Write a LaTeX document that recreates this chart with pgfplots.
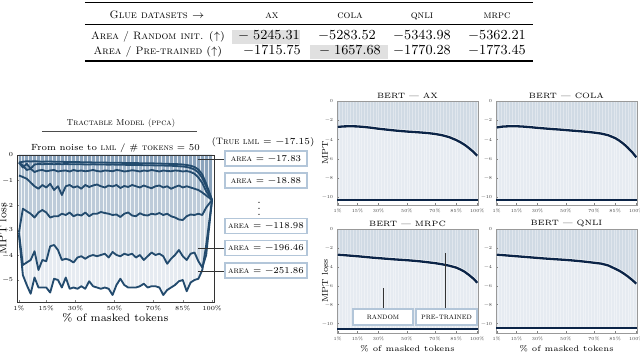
\documentclass[border=0pt]{standalone}
\usepackage{pgfplots}
\pgfplotsset{compat=1.18}
\usepackage{pgfplotstable}
\definecolor{fillc}{HTML}{4D7399}
\definecolor{linec}{HTML}{234B6E}
\definecolor{navy}{HTML}{0B2447}
\definecolor{boxc}{HTML}{B3C6D9}
\definecolor{cellg}{HTML}{E0E0E0}

% PPCA: MPT loss of 7 models, 50 masking levels
\pgfplotstableread{
x    c1     c2     c3     c4     c5     c6     c7
1   -0.30 -0.30 -0.30 -0.82 -3.10 -3.10 -3.20
3   -0.27 -0.50 -0.42 -0.88 -2.15 -4.40 -4.80
5   -0.25 -0.35 -0.60 -0.95 -2.25 -4.30 -5.20
7   -0.26 -0.55 -0.55 -1.10 -2.35 -4.20 -5.55
9   -0.25 -0.38 -0.68 -1.25 -2.50 -3.85 -4.90
11  -0.26 -0.36 -0.62 -1.35 -2.30 -4.60 -5.30
13  -0.27 -0.37 -0.60 -1.20 -2.20 -4.20 -5.30
15  -0.26 -0.36 -0.65 -1.30 -2.30 -4.25 -5.30
17  -0.26 -0.36 -0.62 -1.15 -2.50 -3.65 -5.50
19  -0.27 -0.37 -0.60 -1.40 -2.45 -3.60 -4.95
21  -0.27 -0.36 -0.66 -1.25 -2.45 -3.80 -5.00
23  -0.27 -0.37 -0.63 -1.60 -2.35 -4.20 -5.30
25  -0.28 -0.36 -0.62 -1.25 -2.40 -4.15 -4.90
27  -0.28 -0.37 -0.66 -1.20 -2.30 -4.20 -5.35
29  -0.28 -0.37 -0.60 -1.30 -2.45 -4.30 -5.30
31  -0.28 -0.37 -0.64 -1.25 -2.38 -4.10 -5.35
33  -0.29 -0.37 -0.62 -1.35 -2.42 -4.05 -5.25
35  -0.29 -0.38 -0.65 -1.20 -2.30 -4.15 -5.35
37  -0.29 -0.38 -0.63 -1.28 -2.45 -4.05 -5.05
39  -0.30 -0.37 -0.60 -1.22 -2.35 -4.00 -5.25
41  -0.30 -0.38 -0.64 -1.18 -2.35 -4.05 -5.30
43  -0.30 -0.38 -0.66 -1.25 -2.28 -4.00 -5.35
45  -0.30 -0.38 -0.62 -1.30 -2.32 -3.95 -5.30
47  -0.31 -0.39 -0.63 -1.22 -2.35 -4.10 -5.35
49  -0.31 -0.38 -0.65 -1.26 -2.40 -3.88 -5.60
51  -0.31 -0.39 -0.60 -1.20 -2.38 -4.00 -5.20
53  -0.31 -0.39 -0.62 -1.32 -2.48 -4.05 -4.95
55  -0.32 -0.39 -0.66 -1.24 -2.35 -3.95 -5.20
57  -0.32 -0.40 -0.64 -1.28 -2.30 -4.00 -5.30
59  -0.32 -0.40 -0.61 -1.20 -2.42 -3.95 -5.30
61  -0.32 -0.40 -0.63 -1.25 -2.45 -4.10 -5.30
63  -0.33 -0.40 -0.66 -1.30 -2.33 -4.00 -5.25
65  -0.33 -0.41 -0.62 -1.22 -2.40 -4.20 -5.15
67  -0.33 -0.41 -0.64 -1.28 -2.42 -4.05 -5.30
69  -0.33 -0.41 -0.60 -1.33 -2.35 -3.90 -5.25
71  -0.34 -0.42 -0.63 -1.25 -2.38 -4.00 -5.25
73  -0.34 -0.42 -0.66 -1.22 -2.32 -3.95 -5.30
75  -0.35 -0.42 -0.62 -1.30 -2.40 -4.05 -5.60
77  -0.35 -0.43 -0.64 -1.25 -2.35 -4.35 -5.40
79  -0.36 -0.43 -0.65 -1.35 -2.45 -4.15 -5.30
81  -0.36 -0.44 -0.62 -1.28 -2.50 -4.00 -5.20
83  -0.37 -0.45 -0.63 -1.22 -2.58 -3.80 -5.05
85  -0.38 -0.46 -0.66 -1.30 -2.60 -4.05 -5.00
87  -0.40 -0.48 -0.64 -1.25 -2.45 -4.20 -5.45
89  -0.43 -0.52 -0.68 -1.30 -2.38 -3.95 -5.10
91  -0.48 -0.58 -0.75 -1.35 -2.40 -3.90 -5.00
93  -0.58 -0.70 -0.90 -1.40 -2.35 -4.25 -4.95
95  -0.78 -0.92 -1.12 -1.50 -2.40 -4.50 -4.60
97  -1.15 -1.25 -1.45 -1.62 -2.10 -4.00 -3.60
100 -1.80 -1.80 -1.80 -1.80 -1.80 -1.80 -1.80
}\ppca

% BERT: pre-trained MPT curves
\pgfplotstableread{
x    ax     cola   mrpc   qnli
1   -2.69 -2.75 -2.72 -2.72
5   -2.64 -2.66 -2.76 -2.76
10  -2.62 -2.62 -2.82 -2.82
15  -2.64 -2.62 -2.88 -2.88
20  -2.70 -2.66 -2.95 -2.94
25  -2.78 -2.72 -3.02 -3.00
30  -2.88 -2.79 -3.08 -3.06
35  -2.96 -2.85 -3.14 -3.12
40  -3.04 -2.91 -3.20 -3.17
45  -3.11 -2.96 -3.25 -3.22
50  -3.17 -3.02 -3.30 -3.27
55  -3.22 -3.08 -3.36 -3.33
60  -3.27 -3.14 -3.43 -3.40
65  -3.33 -3.20 -3.52 -3.48
70  -3.42 -3.28 -3.61 -3.57
75  -3.55 -3.38 -3.73 -3.66
80  -3.75 -3.55 -3.88 -3.85
85  -4.05 -3.85 -4.08 -4.20
88  -4.28 -4.12 -4.28 -4.42
91  -4.55 -4.45 -4.52 -4.70
94  -4.88 -4.85 -4.85 -5.02
97  -5.25 -5.30 -5.22 -5.38
100 -5.68 -5.85 -5.68 -5.78
}\bert

\pgfplotsset{
  striped/.style 2 args={set layers, xminorgrids=true, minor xtick={0,2,...,100},
    minor tick length=0pt, minor grid style={white, line width=#1, opacity=#2}},
  bertax/.style={width=91.65pt, height=67.6pt, scale only axis, anchor=south west,
    xmin=0.5, xmax=100.5, ymax=0,
    xtick={1,15,30,50,70,85,100}, xticklabels={1\%,15\%,30\%,50\%,70\%,85\%,100\%},
    ytick={0,-2,-4,-6,-8,-10}, yticklabels={0,−2,−4,−6,−8,−10},
    tick label style={font=\fontsize{3}{3}\selectfont, text=black!75},
    major tick length=1pt, tick pos=left, tick style={black!50},
    xticklabel style={yshift=1pt}, yticklabel style={xshift=1pt},
    axis line style={black!40, line width=0.3pt},
    every axis title/.style={font=\fontsize{5}{6}\selectfont, at={(0.5,1)}, anchor=south, inner sep=1pt},
    ylabel style={font=\fontsize{5.5}{6}\selectfont, at={(axis description cs:-0.085,0.5)}, anchor=center},
    xlabel style={font=\fontsize{5.2}{6}\selectfont, at={(axis description cs:0.5,-0.154)}, anchor=center},
    striped={0.25pt}{0.35}},
  afill/.style={on layer=axis background, draw=none, fill=fillc, fill opacity=0.14},
  bline/.style={navy, line width=1.5pt},
  halo/.style={white, line width=2.3pt, opacity=0.8},
}

\newcommand{\bertplot}[2]{%
  \addplot[afill] coordinates {(0.5,#2) (100.5,#2)} \closedcycle;
  \addplot[afill] table[x=x,y=#1]{\bert} \closedcycle;
  \addplot[halo] table[x=x,y=#1]{\bert};
  \addplot[bline] coordinates {(0.5,#2) (100.5,#2)};
  \addplot[bline] table[x=x,y=#1]{\bert};
}

\begin{document}
\begin{tikzpicture}
\path (0,0) rectangle (416pt,228.8pt);

% left: tractable model
\begin{axis}[at={(11.05pt,32.5pt)}, anchor=south west,
  width=128.05pt, height=95.55pt, scale only axis,
  xmin=0, xmax=101, ymin=-5.88, ymax=0,
  xtick={1,15,30,50,70,85,100}, xticklabels={1\%,15\%,30\%,50\%,70\%,85\%,100\%},
  ytick={0,-1,-2,-3,-4,-5}, yticklabels={0,−1,−2,−3,−4,−5},
  tick label style={font=\fontsize{4}{4}\selectfont},
  xticklabel style={yshift=1pt}, yticklabel style={xshift=1pt},
  major tick length=1.5pt, tick pos=left,
  axis line style={black!80, line width=0.4pt},
  title={From noise to \textsc{lml} / \# \textsc{tokens} = 50},
  every axis title/.style={font=\fontsize{5.8}{7}\selectfont, at={(0.5,1)}, anchor=south, inner sep=1.5pt},
  xlabel={\% of masked tokens},
  xlabel style={font=\fontsize{7}{8}\selectfont, at={(axis description cs:0.5,-0.109)}, anchor=center},
  ylabel={MPT loss},
  ylabel style={font=\fontsize{7}{8}\selectfont, at={(axis description cs:-0.072,0.5)}, anchor=center},
  striped={0.4pt}{0.8}]
\pgfplotsinvokeforeach{c7,c6,c5,c4,c3,c2,c1}{
  \addplot[afill] table[x=x,y=#1]{\ppca} \closedcycle;
}
\pgfplotsinvokeforeach{c1,c2,c3,c4,c5,c6,c7}{
  \addplot[linec, line width=1.2pt, line join=round] table[x=x,y=#1]{\ppca};
}
\end{axis}

% right: BERT panels
\begin{axis}[bertax, at={(219.05pt,95.55pt)}, ymin=-10.8, title={BERT — AX}, ylabel={MPT}]
\bertplot{ax}{-10.28}
\end{axis}
\begin{axis}[bertax, at={(322.4pt,95.55pt)}, ymin=-10.8, title={BERT — COLA}]
\bertplot{cola}{-10.28}
\end{axis}
\begin{axis}[bertax, at={(219.05pt,12.35pt)}, ymin=-11, title={BERT — MRPC}, ylabel={MPT loss}, xlabel={\% of masked tokens}]
\bertplot{mrpc}{-10.56}
\end{axis}
\begin{axis}[bertax, at={(322.4pt,12.35pt)}, ymin=-11, title={BERT — QNLI}, xlabel={\% of masked tokens}]
\bertplot{qnli}{-10.46}
\end{axis}

% annotations, table (pixel coordinates)
\begin{scope}[x=0.65pt, y=-0.65pt, shift={(0pt,228.8pt)}]
  \fill[cellg] (232,30) rectangle (300,44);
  \fill[cellg] (310,45) rectangle (388,59);
  \draw[line width=0.9pt] (85,2.5) -- (533,2.5);
  \draw[line width=0.4pt] (85,24) -- (533,24);
  \draw[line width=0.9pt] (85,61) -- (533,61);
  \begin{scope}[every node/.style={anchor=base, font=\fontsize{9.5}{10}\selectfont, inner sep=0}]
    \begin{scope}[every node/.append style={font=\fontsize{7}{8}\selectfont}]
      \node at (157,18) {\textsc{Glue datasets} $\rightarrow$};
      \node at (272,18) {\textsc{ax}};
      \node at (350,18) {\textsc{cola}};
      \node at (422,18) {\textsc{qnli}};
      \node at (497,18) {\textsc{mrpc}};
      \node at (158,39.5) {\textsc{Area / Random init.} ($\uparrow$)};
      \node at (158,54.5) {\textsc{Area / Pre-trained} ($\uparrow$)};
    \end{scope}
    \node at (269,39.5) {$-\;5245.31$};
    \node at (347,39.5) {$-5283.52$};
    \node at (422,39.5) {$-5343.98$};
    \node at (497,39.5) {$-5362.21$};
    \node at (272,54.5) {$-1715.75$};
    \node at (350,54.5) {$-\;1657.68$};
    \node at (422,54.5) {$-1770.28$};
    \node at (497,54.5) {$-1773.45$};
  \end{scope}

  \node[font=\fontsize{5.6}{7}\selectfont] at (121,123) {\textsc{Tractable Model (ppca)}};
  \draw[line width=0.5pt, black!70] (42,131) -- (197,131);
  \node[font=\fontsize{6}{7}\selectfont] at (263,142) {(\textsc{True lml} = −17.15)};

  \draw[black!80, line width=0.5pt] (198,159) -- (225,159);
  \draw[black!80, line width=0.5pt] (198,248) -- (225,248);
  \draw[black!80, line width=0.5pt] (198,271) -- (225,271);
  \begin{scope}[every node/.style={draw=boxc, line width=1pt, fill=white, minimum width=53.3pt,
      minimum height=9.75pt, inner sep=0, font=\fontsize{5.8}{7}\selectfont}]
    \node at (266,158.5) {\textsc{area} = −17.83};
    \node at (266,180.5) {\textsc{area} = −18.88};
    \node at (266,226) {\textsc{area} = −118.98};
    \node at (266,248) {\textsc{area} = −196.46};
    \node at (266,270.5) {\textsc{area} = −251.86};
  \end{scope}
  \node[font=\fontsize{7}{7}\selectfont] at (259,204) {$\vdots$};

  \draw[black!80, line width=0.5pt] (383,309) -- (383,288);
  \draw[black!80, line width=0.5pt] (445,309) -- (445,253);
  \node[draw=boxc, line width=1pt, fill=white, minimum width=39pt, minimum height=10.4pt,
    inner sep=0, font=\fontsize{5.5}{6}\selectfont] at (383,317) {\textsc{random}};
  \node[draw=boxc, line width=1pt, fill=white, minimum width=39.65pt, minimum height=10.4pt,
    inner sep=0, font=\fontsize{5.5}{6}\selectfont] at (446.5,317) {\textsc{pre-trained}};
\end{scope}
\pgfresetboundingbox
\useasboundingbox (0,0) rectangle (416pt,228.8pt);
\end{tikzpicture}
\end{document}
